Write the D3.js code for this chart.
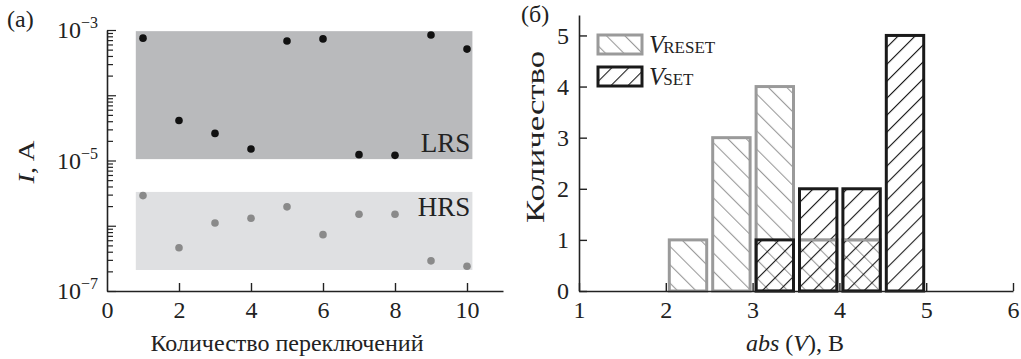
<!DOCTYPE html>
<html>
<head>
<meta charset="utf-8">
<script src="https://cdn.jsdelivr.net/npm/d3@7"></script>
<style>
  body { margin: 0; background: #fff; }
  svg text { font-family: "Liberation Serif", "Times New Roman", "DejaVu Serif", serif !important; }
</style>
</head>
<body>
<div id="chart"></div>
<script>
// (a) current vs switching number
const switchNum = [1, 2, 3, 4, 5, 6, 7, 8, 9, 10];
const lrsCurrent = [7.5e-4, 4.1e-5, 2.6e-5, 1.5e-5, 6.8e-4, 7.3e-4, 1.23e-5, 1.2e-5, 8.4e-4, 5.1e-4];
const hrsCurrent = [2.9e-6, 4.6e-7, 1.1e-6, 1.3e-6, 1.95e-6, 7.3e-7, 1.5e-6, 1.5e-6, 2.9e-7, 2.4e-7];
const bandRangeX = [0.8, 10.15];
const lrsBand = [1.05e-5, 9.6e-4];
const hrsBand = [2.1e-7, 3.3e-6];
const xTicksA = [0, 2, 4, 6, 8, 10];
const yLabelExp = [-3, -5, -7];

// (б) histogram of switching voltages
const binStarts = [2, 2.5, 3, 3.5, 4, 4.5];
const binWidth = 0.5;
const resetCounts = [1, 3, 4, 1, 1, 0];
const setCounts = [0, 0, 1, 2, 2, 5];
const xTicksB = [1, 2, 3, 4, 5, 6];
const yTicksB = [0, 1, 2, 3, 4, 5];

const W = 1021, H = 359;
const fs = 24;

const svg = d3.select('#chart').append('svg')
    .attr('width', W)
    .attr('height', H);

svg.append('rect').attr('width', W).attr('height', H).attr('fill', '#fff');

// hatch patterns
const defs = svg.append('defs');
function hatch(id, angle, color, gap) {
    defs.append('pattern')
        .attr('id', id)
        .attr('patternUnits', 'userSpaceOnUse')
        .attr('width', gap)
        .attr('height', gap)
        .attr('patternTransform', `rotate(${angle})`)
        .append('line')
        .attr('x1', 0).attr('y1', 0)
        .attr('x2', 0).attr('y2', gap)
        .attr('stroke', color)
        .attr('stroke-width', 2.2);
}
hatch('hReset', -45, '#9a9a9a', 13);
hatch('hSet', 45, '#1a1a1a', 12);

// ---------- panel (a) ----------
const xA = d3.scaleLinear().domain([0, 11]).range([107, 503]);
const yA = d3.scaleLog().domain([1e-7, 1e-3]).range([291, 30]);

const gA = svg.append('g');

gA.append('rect')
    .attr('x', xA(bandRangeX[0]))
    .attr('y', yA(lrsBand[1]))
    .attr('width', xA(bandRangeX[1]) - xA(bandRangeX[0]))
    .attr('height', yA(lrsBand[0]) - yA(lrsBand[1]))
    .attr('fill', '#b9babc');

gA.append('rect')
    .attr('x', xA(bandRangeX[0]))
    .attr('y', yA(hrsBand[1]))
    .attr('width', xA(bandRangeX[1]) - xA(bandRangeX[0]))
    .attr('height', yA(hrsBand[0]) - yA(hrsBand[1]))
    .attr('fill', '#dfe0e2');

gA.append('text')
    .attr('x', xA(bandRangeX[1]) - 2)
    .attr('y', yA(lrsBand[0]) - 7)
    .attr('text-anchor', 'end')
    .attr('font-size', 27)
    .attr('fill', '#222')
    .text('LRS');

gA.append('text')
    .attr('x', xA(bandRangeX[1]) - 2)
    .attr('y', yA(hrsBand[1]) + 24)
    .attr('text-anchor', 'end')
    .attr('font-size', 27)
    .attr('fill', '#222')
    .text('HRS');

gA.selectAll('.lrs')
    .data(switchNum)
    .enter()
    .append('circle')
    .attr('cx', d => xA(d))
    .attr('cy', (d, i) => yA(lrsCurrent[i]))
    .attr('r', 3.8)
    .attr('fill', '#111');

gA.selectAll('.hrs')
    .data(switchNum)
    .enter()
    .append('circle')
    .attr('cx', d => xA(d))
    .attr('cy', (d, i) => yA(hrsCurrent[i]))
    .attr('r', 3.8)
    .attr('fill', '#8a8a8a');

// x axis
const axA = gA.append('g')
    .attr('transform', `translate(0,${yA(1e-7)})`)
    .call(d3.axisBottom(xA).tickValues(xTicksA).tickFormat(d3.format('d')).tickSize(-8).tickPadding(10).tickSizeOuter(0));
axA.select('.domain').attr('stroke', '#222').attr('stroke-width', 1.6);
axA.selectAll('.tick line').attr('stroke', '#222').attr('stroke-width', 1.4);
axA.selectAll('.tick text').attr('font-size', fs).attr('fill', '#222');
axA.selectAll('.tick').filter(d => d === 0).select('line').remove();

// log y axis: minor ticks then major ticks
const logTicks = [];
for (let e = -7; e < -3; e++) {
    for (let m = 1; m < 10; m++) logTicks.push(m * Math.pow(10, e));
}
logTicks.push(1e-3);

const ayA = gA.append('g')
    .attr('transform', `translate(${xA(0)},0)`)
    .call(d3.axisLeft(yA).tickValues(logTicks).tickSize(-6).tickSizeOuter(0).tickFormat(''));
ayA.select('.domain').attr('stroke', '#222').attr('stroke-width', 1.6);
ayA.selectAll('.tick line')
    .attr('stroke', '#222')
    .attr('stroke-width', 1.2)
    .attr('x2', d => Math.abs(Math.log10(d) - Math.round(Math.log10(d))) < 1e-6 ? 9 : 6);

yLabelExp.forEach(e => {
    const t = gA.append('text')
        .attr('x', xA(0) - 9)
        .attr('y', yA(Math.pow(10, e)) + 8)
        .attr('text-anchor', 'end')
        .attr('font-size', fs)
        .attr('fill', '#222');
    t.append('tspan').text('10');
    t.append('tspan').attr('dy', -10).attr('font-size', 16).text('\u2212' + Math.abs(e));
});

gA.append('text')
    .attr('transform', 'translate(34,162) rotate(-90)')
    .attr('text-anchor', 'middle')
    .attr('font-size', fs)
    .attr('textLength', 43)
    .attr('lengthAdjust', 'spacingAndGlyphs')
    .attr('fill', '#222')
    .call(t => {
        t.append('tspan').attr('font-style', 'italic').text('I');
        t.append('tspan').text(', A');
    });

gA.append('text')
    .attr('x', xA(5))
    .attr('y', 351)
    .attr('text-anchor', 'middle')
    .attr('font-size', fs)
    .attr('fill', '#222')
    .text('Количество переключений');

gA.append('text')
    .attr('x', 7)
    .attr('y', 27)
    .attr('font-size', fs)
    .attr('fill', '#222')
    .text('(a)');

// ---------- panel (б) ----------
const xB = d3.scaleLinear().domain([1, 6]).range([579, 1013]);
const yB = d3.scaleLinear().domain([0, 5.4]).range([291, 15]);

const gB = svg.append('g');

const resetBins = binStarts.map((x0, i) => ({ x0, count: resetCounts[i] })).filter(d => d.count > 0);
const setBins = binStarts.map((x0, i) => ({ x0, count: setCounts[i] })).filter(d => d.count > 0);

// V_RESET bars
gB.selectAll('.reset')
    .data(resetBins)
    .enter()
    .append('rect')
    .attr('x', d => xB(d.x0) + 3.5)
    .attr('y', d => yB(d.count))
    .attr('width', d => xB(d.x0 + binWidth) - xB(d.x0) - 6)
    .attr('height', d => yB(0) - yB(d.count))
    .attr('fill', 'url(#hReset)')
    .attr('stroke', '#9a9a9a')
    .attr('stroke-width', 3);

// V_SET bars
gB.selectAll('.set')
    .data(setBins)
    .enter()
    .append('rect')
    .attr('x', d => xB(d.x0) + 3.5)
    .attr('y', d => yB(d.count))
    .attr('width', d => xB(d.x0 + binWidth) - xB(d.x0) - 6)
    .attr('height', d => yB(0) - yB(d.count))
    .attr('fill', 'url(#hSet)')
    .attr('stroke', '#1a1a1a')
    .attr('stroke-width', 3);

// gray top edge of reset bars shows through the set bars
gB.selectAll('.resetTop')
    .data(resetBins.filter(d => setBins.some(s => s.x0 === d.x0 && s.count > d.count)))
    .enter()
    .append('line')
    .attr('x1', d => xB(d.x0) + 5)
    .attr('x2', d => xB(d.x0 + binWidth) - 4)
    .attr('y1', d => yB(d.count))
    .attr('y2', d => yB(d.count))
    .attr('stroke', '#9a9a9a')
    .attr('stroke-width', 2.5);

const axB = gB.append('g')
    .attr('transform', `translate(0,${yB(0)})`)
    .call(d3.axisBottom(xB).tickValues(xTicksB).tickFormat(d3.format('d')).tickSize(-8).tickPadding(10).tickSizeOuter(0));
axB.select('.domain').attr('stroke', '#222').attr('stroke-width', 1.6);
axB.selectAll('.tick line').attr('stroke', '#222').attr('stroke-width', 1.4);
axB.selectAll('.tick text').attr('font-size', fs).attr('fill', '#222');

const ayB = gB.append('g')
    .attr('transform', `translate(${xB(1)},0)`)
    .call(d3.axisLeft(yB).tickValues(yTicksB).tickFormat(d3.format('d')).tickSize(-8).tickPadding(10).tickSizeOuter(0));
ayB.select('.domain').attr('stroke', '#222').attr('stroke-width', 1.6);
ayB.selectAll('.tick line').attr('stroke', '#222').attr('stroke-width', 1.4);
ayB.selectAll('.tick text').attr('font-size', fs).attr('fill', '#222');

// legend
const legend = [
    { name: 'RESET', fill: 'url(#hReset)', stroke: '#9a9a9a', y: 35 },
    { name: 'SET', fill: 'url(#hSet)', stroke: '#1a1a1a', y: 67 }
];
legend.forEach(d => {
    gB.append('rect')
        .attr('x', 598)
        .attr('y', d.y)
        .attr('width', 44)
        .attr('height', 19)
        .attr('fill', d.fill)
        .attr('stroke', d.stroke)
        .attr('stroke-width', 3);
    const t = gB.append('text')
        .attr('x', 649)
        .attr('y', d.y + 18)
        .attr('font-size', 25)
        .attr('fill', '#222');
    t.append('tspan').attr('font-style', 'italic').text('V');
    t.append('tspan').attr('font-size', 17).attr('dx', -1).text(d.name);
});

gB.append('text')
    .attr('transform', 'translate(544,137) rotate(-90)')
    .attr('text-anchor', 'middle')
    .attr('font-size', 26)
    .attr('textLength', 172)
    .attr('lengthAdjust', 'spacingAndGlyphs')
    .attr('fill', '#222')
    .text('Количество');

gB.append('text')
    .attr('x', 795)
    .attr('y', 351)
    .attr('text-anchor', 'middle')
    .attr('font-size', fs)
    .attr('fill', '#222')
    .call(t => {
        t.append('tspan').attr('font-style', 'italic').text('abs');
        t.append('tspan').text(' (');
        t.append('tspan').attr('font-style', 'italic').text('V');
        t.append('tspan').text('), B');
    });

gB.append('text')
    .attr('x', 521)
    .attr('y', 22)
    .attr('font-size', fs)
    .attr('fill', '#222')
    .text('(б)');
</script>
</body>
</html>
